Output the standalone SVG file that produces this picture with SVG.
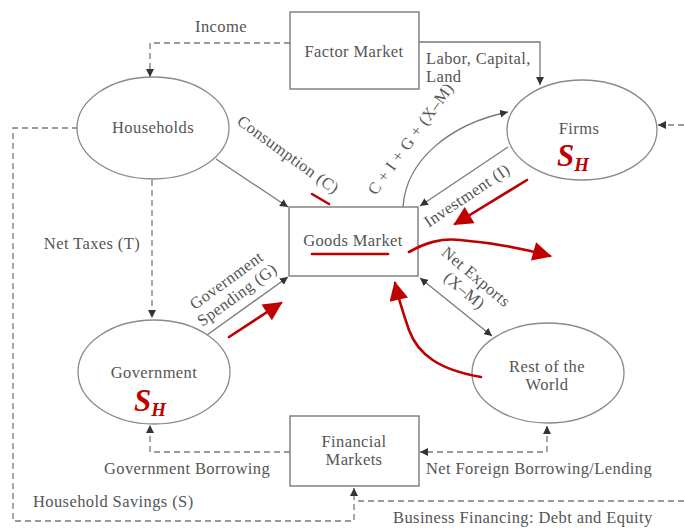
<svg xmlns="http://www.w3.org/2000/svg" width="684" height="529" viewBox="0 0 684 529">
  <style>
    .box { fill: #ffffff; stroke: #7a7a7a; stroke-width: 1.4; }
    .oval { fill: #ffffff; stroke: #8a8a8a; stroke-width: 1.3; }
    .lbl { font-family: "Liberation Serif", "DejaVu Serif", serif; font-size: 16.5px; letter-spacing: 0.4px; fill: #555555; text-anchor: middle; }
    .side { font-family: "Liberation Serif", "DejaVu Serif", serif; font-size: 16.5px; letter-spacing: 0.4px; fill: #555555; }
    .flow { fill: none; stroke: #7a7a7a; stroke-width: 1.3; }
    .dash { fill: none; stroke: #7a7a7a; stroke-width: 1.3; stroke-dasharray: 6 4; }
    .red { fill: none; stroke: #c00000; stroke-width: 2.6; stroke-linecap: round; }
    .sh { font-family: "Liberation Serif", "DejaVu Serif", serif; font-weight: bold; font-style: italic; fill: #c00000; }
  </style>
  <defs>
    <marker id="ah" viewBox="0 0 10 10" refX="10" refY="5" markerWidth="8" markerHeight="8" markerUnits="userSpaceOnUse" orient="auto-start-reverse">
      <path d="M0,0 L10,5 L0,10 Z" fill="#333"/>
    </marker>
    <marker id="rh" viewBox="0 0 10 10" refX="9" refY="5" markerWidth="22" markerHeight="19" markerUnits="userSpaceOnUse" orient="auto">
      <path d="M0,0 L10,5 L0,10 Z" fill="#c00000"/>
    </marker>
  </defs>

  <rect width="684" height="529" fill="#ffffff"/>

  <!-- connectors -->
  <g id="connectors">
    <!-- income: factor market -> households -->
    <path class="dash" d="M290,43 H150 V77" marker-end="url(#ah)"/>
    <!-- labor, capital, land: factor market -> firms -->
    <path class="flow" d="M419,42 H540 V85" marker-end="url(#ah)"/>
    <!-- consumption -->
    <path class="flow" d="M216,159 L288,207" marker-end="url(#ah)"/>
    <!-- C + I + G + (X-M) -->
    <path class="flow" d="M403,207 C406,160 450,124 508,112" marker-end="url(#ah)"/>
    <!-- investment -->
    <path class="flow" d="M508,147 L420,206" marker-end="url(#ah)"/>
    <!-- government spending -->
    <path class="flow" d="M207,335 L288,277" marker-end="url(#ah)"/>
    <!-- net exports (two-way) -->
    <path class="flow" d="M420,278 L492,336" marker-start="url(#ah)" marker-end="url(#ah)"/>
    <!-- net taxes -->
    <path class="dash" d="M152,180 V318" marker-end="url(#ah)"/>
    <!-- government borrowing -->
    <path class="dash" d="M290,452 H150 V425" marker-end="url(#ah)"/>
    <!-- net foreign borrowing/lending -->
    <path class="dash" d="M547,426 V452 H420" marker-start="url(#ah)" marker-end="url(#ah)"/>
    <!-- household savings -->
    <path class="dash" d="M78,128 H13 V521 H354 V488" marker-end="url(#ah)"/>
    <!-- business financing -->
    <path class="dash" d="M684,501 H356"/>
    <!-- inflow to firms from the right -->
    <path class="dash" d="M684,125 H658" marker-end="url(#ah)"/>
  </g>

  <!-- nodes -->
  <g id="factor-market">
    <rect class="box" x="290" y="12" width="129" height="77"/>
    <text class="lbl" x="354" y="57">Factor Market</text>
  </g>
  <g id="households">
    <ellipse class="oval" cx="153" cy="128" rx="76" ry="51"/>
    <text class="lbl" x="153" y="133">Households</text>
  </g>
  <g id="firms">
    <ellipse class="oval" cx="582" cy="130" rx="75" ry="50"/>
    <text class="lbl" x="579" y="134">Firms</text>
    <text class="sh" x="557" y="166" font-size="31">S<tspan font-size="19" dy="5">H</tspan></text>
  </g>
  <g id="goods-market">
    <rect class="box" x="289" y="207" width="129" height="69"/>
    <text class="lbl" x="353" y="246">Goods Market</text>
  </g>
  <g id="government">
    <ellipse class="oval" cx="154" cy="372" rx="76" ry="52"/>
    <text class="lbl" x="154" y="378">Government</text>
    <text class="sh" x="134" y="411" font-size="31">S<tspan font-size="19" dy="5">H</tspan></text>
  </g>
  <g id="rest-of-world">
    <ellipse class="oval" cx="548" cy="373" rx="76" ry="50"/>
    <text class="lbl" x="547" y="372">Rest of the</text>
    <text class="lbl" x="547" y="390">World</text>
  </g>
  <g id="financial-markets">
    <rect class="box" x="290" y="416" width="129" height="70"/>
    <text class="lbl" x="354" y="447">Financial</text>
    <text class="lbl" x="354" y="465">Markets</text>
  </g>

  <!-- flow labels -->
  <g id="labels">
    <text class="lbl" x="221" y="32">Income</text>
    <text class="side" x="426" y="64">Labor, Capital,</text>
    <text class="side" x="426" y="82">Land</text>
    <text class="lbl" transform="translate(285,159) rotate(36)" x="0" y="0">Consumption (C)</text>
    <text class="lbl" transform="translate(415,142) rotate(-54)" x="0" y="0">C + I + G + (X–M)</text>
    <text class="lbl" transform="translate(470,200) rotate(-34)" x="0" y="0">Investment (I)</text>
    <text class="lbl" x="92" y="249">Net Taxes (T)</text>
    <g transform="translate(232,288) rotate(-36)">
      <text class="lbl" x="0" y="-4">Government</text>
      <text class="lbl" x="0" y="14">Spending (G)</text>
    </g>
    <g transform="translate(470,284) rotate(40)">
      <text class="lbl" x="0" y="-4">Net Exports</text>
      <text class="lbl" x="0" y="14">(X–M)</text>
    </g>
    <text class="lbl" x="187" y="474">Government Borrowing</text>
    <text class="side" x="426" y="474">Net Foreign Borrowing/Lending</text>
    <text class="side" x="33" y="507">Household Savings (S)</text>
    <text class="side" x="393" y="523">Business Financing: Debt and Equity</text>
  </g>

  <!-- red annotations -->
  <g id="annotations">
    <line class="red" x1="312" y1="194" x2="329" y2="204"/>
    <line class="red" x1="312" y1="254" x2="388" y2="254"/>
    <path class="red" d="M527,180 L455,224" marker-end="url(#rh)"/>
    <path class="red" d="M229,337 L281,303" marker-end="url(#rh)"/>
    <path class="red" d="M409,252 C425,243 440,238 460,240 C495,243 525,249 550,256" marker-end="url(#rh)"/>
    <path class="red" d="M481,377 C440,370 418,355 409,330 C402,310 398,296 395,283" marker-end="url(#rh)"/>
  </g>
</svg>
